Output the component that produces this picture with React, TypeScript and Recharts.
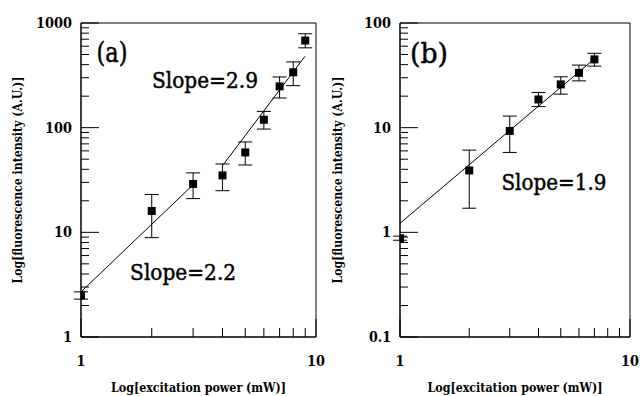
import React from 'react'
import { ComposedChart, Scatter, Line, XAxis, YAxis, ErrorBar, ReferenceArea, ReferenceDot } from 'recharts'

// panel (a)
const powerA = [1, 2, 3, 4, 5, 6, 7, 8, 9]
const intensityA = [2.5, 16, 29, 35, 58, 119, 248, 338, 680]
const lowA = [2.3, 8.9, 21, 25, 44, 97, 192, 252, 579]
const highA = [2.7, 23, 37, 45, 73, 143, 305, 425, 789]
const fitA1X = [1, 3.1]
const fitA1Y = [2.7, 30.6]
const fitA2X = [4.03, 8.98]
const fitA2Y = [44.3, 481]

// panel (b)
const powerB = [1, 2, 3, 4, 5, 6, 7]
const intensityB = [0.88, 3.9, 9.3, 18.6, 25.9, 33.4, 44.9]
const lowB = [0.84, 1.7, 5.8, 15.9, 20.9, 28, 38.7]
const highB = [0.92, 6.1, 12.9, 21.7, 30.6, 39.6, 51.3]
const fitBX = [1, 7.17]
const fitBY = [1.22, 47.5]

const xTicks = [1, 2, 3, 4, 5, 6, 7, 8, 9, 10]
const yTicksA = [1, 2, 3, 4, 5, 6, 7, 8, 9, 10, 20, 30, 40, 50, 60, 70, 80, 90, 100, 200, 300, 400, 500, 600, 700, 800, 900, 1000]
const yTicksB = [0.1, 0.2, 0.3, 0.4, 0.5, 0.6, 0.7, 0.8, 0.9, 1, 2, 3, 4, 5, 6, 7, 8, 9, 10, 20, 30, 40, 50, 60, 70, 80, 90, 100]

// Liberation Serif falls back to a sans face here, so DejaVu Serif squeezed with textLength
const FONT = "'DejaVu Serif', serif"

const isDecade = (v: number) => Math.abs(Math.log10(v) - Math.round(Math.log10(v))) < 1e-6

// rough Times-like width of a tick label
const labelWidth = (s: string) => s.split('').reduce((w, c) => w + (c === '.' ? 4 : 9), 0)

const toPoints = (xs: number[], ys: number[], lo?: number[], hi?: number[]) =>
  xs.map((x, i) => ({
    x,
    y: ys[i],
    err: lo && hi ? [ys[i] - lo[i], hi[i] - ys[i]] : undefined,
  }))

const YTick = (props: any) => {
  const { x, y, payload } = props
  const major = isDecade(payload.value)
  const label = String(payload.value)
  return (
    <g>
      <line x1={x} x2={x + (major ? 18 : 8)} y1={y} y2={y} stroke="#000" strokeWidth={1} />
      {major && (
        <text x={x - 9} y={y} dy={5} textAnchor="end" fontFamily={FONT} fontWeight="bold" fontSize={14} fill="#000"
          textLength={labelWidth(label)} lengthAdjust="spacingAndGlyphs">
          {label}
        </text>
      )}
    </g>
  )
}

const XTick = (props: any) => {
  const { x, y, payload } = props
  const major = isDecade(payload.value)
  const label = String(payload.value)
  return (
    <g>
      <line x1={x} x2={x} y1={y} y2={y - (major ? 18 : 9)} stroke="#000" strokeWidth={1} />
      {major && (
        <text x={x} y={y} dy={29} textAnchor="middle" fontFamily={FONT} fontWeight="bold" fontSize={14} fill="#000"
          textLength={labelWidth(label)} lengthAdjust="spacingAndGlyphs">
          {label}
        </text>
      )}
    </g>
  )
}

const YTitle = (props: any) => {
  const vb = props.viewBox
  const cx = vb.x + 17
  const cy = vb.y + vb.height / 2
  return (
    <text x={cx} y={cy} dy={4.5} transform={`rotate(-90, ${cx}, ${cy})`} textAnchor="middle"
      fontFamily={FONT} fontWeight="bold" fontSize={13} fill="#000" textLength={207} lengthAdjust="spacingAndGlyphs">
      Log[fluorescence intensity (A.U.)]
    </text>
  )
}

const XTitle = (props: any) => {
  const vb = props.viewBox
  return (
    <text x={vb.x + vb.width / 2} y={vb.y + 55} textAnchor="middle" fontFamily={FONT} fontWeight="bold" fontSize={13}
      fill="#000" textLength={175} lengthAdjust="spacingAndGlyphs">
      Log[excitation power (mW)]
    </text>
  )
}

const square = (props: any) => (
  <rect x={props.cx - 4} y={props.cy - 4} width={8} height={8} fill="#000" />
)

interface Note { x: number; y: number; text: string; size: number; width: number }

const noteLabel = (n: Note) => (p: any) => {
  const vb = p.viewBox
  return (
    <text x={vb.x + vb.width / 2} y={vb.y + vb.height / 2} dy={n.size * 0.36} textAnchor="middle"
      fontFamily={FONT} fontSize={n.size} fill="#000" stroke="#000" strokeWidth={0.5}
      textLength={n.width} lengthAdjust="spacingAndGlyphs">
      {n.text}
    </text>
  )
}

interface PanelProps {
  points: any[]
  fits: any[][]
  yTicks: number[]
  yDomain: [number, number]
  notes: Note[]
  yAxisWidth: number
  width: number
  right: number
}

const Panel = ({ points, fits, yTicks, yDomain, notes, yAxisWidth, width, right }: PanelProps) => (
  <ComposedChart width={width} height={396} margin={{ top: 23, right, bottom: 0, left: 0 }}>
    <XAxis
      type="number"
      dataKey="x"
      scale="log"
      domain={[1, 10]}
      ticks={xTicks}
      interval={0}
      allowDataOverflow
      height={59}
      tickSize={0}
      tickMargin={0}
      tickLine={false}
      axisLine={{ stroke: '#000' }}
      tick={<XTick />}
      label={{ content: (p: any) => <XTitle {...p} /> }}
    />
    <YAxis
      type="number"
      dataKey="y"
      scale="log"
      domain={yDomain}
      ticks={yTicks}
      interval={0}
      allowDataOverflow
      width={yAxisWidth}
      tickSize={0}
      tickMargin={0}
      tickLine={false}
      axisLine={{ stroke: '#000' }}
      tick={<YTick />}
      label={{ content: (p: any) => <YTitle {...p} /> }}
    />
    <ReferenceArea x1={1} x2={10} y1={yDomain[0]} y2={yDomain[1]} fill="none" stroke="#000" strokeWidth={1} />
    {fits.map((f, i) => (
      <Line key={i} data={f} dataKey="y" type="linear" stroke="#000" strokeWidth={1} dot={false} isAnimationActive={false} />
    ))}
    <Scatter data={points} dataKey="y" shape={square} isAnimationActive={false}>
      <ErrorBar dataKey="err" direction="y" width={7} stroke="#000" strokeWidth={1} isAnimationActive={false} />
    </Scatter>
    {notes.map((n, i) => (
      <ReferenceDot key={i} x={n.x} y={n.y} r={0} stroke="none" fill="none" label={{ content: noteLabel(n) }} />
    ))}
  </ComposedChart>
)

const notesA: Note[] = [
  { x: 1.355, y: 522, text: '(a)', size: 27, width: 31 },
  { x: 3.37, y: 288, text: 'Slope=2.9', size: 23, width: 106 },
  { x: 2.72, y: 4.2, text: 'Slope=2.2', size: 23, width: 106 },
]
const notesB: Note[] = [
  { x: 1.337, y: 51.5, text: '(b)', size: 27, width: 38 },
  { x: 4.67, y: 3.04, text: 'Slope=1.9', size: 23, width: 105 },
]

export default function App() {
  return (
    <div style={{ position: 'absolute', left: 0, top: 0, width: 640, height: 396, background: '#fff' }}>
      <div style={{ position: 'absolute', left: 0, top: 0 }}>
        <Panel
          points={toPoints(powerA, intensityA, lowA, highA)}
          fits={[toPoints(fitA1X, fitA1Y), toPoints(fitA2X, fitA2Y)]}
          yTicks={yTicksA}
          yDomain={[1, 1000]}
          notes={notesA}
          yAxisWidth={81}
          width={336}
          right={20}
        />
      </div>
      <div style={{ position: 'absolute', left: 320, top: 0 }}>
        <Panel
          points={toPoints(powerB, intensityB, lowB, highB)}
          fits={[toPoints(fitBX, fitBY)]}
          yTicks={yTicksB}
          yDomain={[0.1, 100]}
          notes={notesB}
          yAxisWidth={80}
          width={320}
          right={10}
        />
      </div>
    </div>
  )
}
